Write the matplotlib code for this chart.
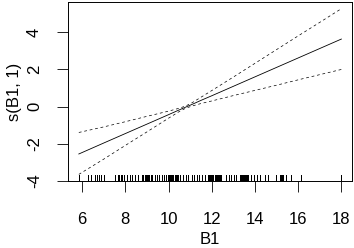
import matplotlib
matplotlib.use("Agg")
from matplotlib import pyplot as plt
import matplotlib.transforms as mtransforms

plt.rcParams['font.family'] = ['Liberation Sans', 'DejaVu Sans']
plt.rcParams['font.size'] = 12
plt.rcParams['axes.unicode_minus'] = False

# smooth term s(B1, 1) with its confidence band
b1 = [5.85, 7, 8, 9, 10, 10.5, 10.8, 11.1, 11.5, 12, 13, 14, 15, 16, 17, 18]
fit = [-2.56, -1.97, -1.46, -0.95, -0.44, -0.18, -0.03, 0.12, 0.33, 0.58,
       1.09, 1.60, 2.11, 2.62, 3.13, 3.64]
upper = [-1.40, -1.10, -0.82, -0.53, -0.25, -0.09, 0.03, 0.21, 0.50, 0.86,
         1.59, 2.33, 3.07, 3.81, 4.54, 5.28]
lower = [-3.66, -2.84, -2.10, -1.37, -0.63, -0.27, -0.09, 0.03, 0.16, 0.30,
         0.59, 0.87, 1.15, 1.44, 1.72, 2.00]

# observed B1 values (rug)
rug = [5.85, 6.28, 6.43, 6.58, 6.67, 6.77, 6.89, 7.00, 7.53, 7.66, 7.73, 7.78,
       7.84, 7.94, 8.07, 8.23, 8.33, 8.46, 8.61, 8.76, 8.84, 8.92, 8.97, 9.02,
       9.07, 9.12, 9.17, 9.22, 9.38, 9.48, 9.56, 9.69, 9.79, 9.88, 9.96, 10.01,
       10.05, 10.10, 10.14, 10.19, 10.23, 10.28, 10.32, 10.37, 10.41, 10.45,
       10.54, 10.68, 10.79, 10.91, 11.07, 11.19, 11.30, 11.41, 11.53, 11.68,
       11.82, 11.87, 11.91, 11.96, 12.00, 12.05, 12.14, 12.19, 12.23, 12.28,
       12.32, 12.37, 12.41, 12.45, 12.68, 12.79, 12.91, 13.02, 13.11, 13.30,
       13.35, 13.39, 13.44, 13.49, 13.53, 13.58, 13.63, 13.68, 13.83, 13.95,
       14.08, 14.22, 14.45, 14.60, 14.99, 15.14, 15.19, 15.24, 15.29, 15.45,
       15.68, 16.14, 17.98]

xticks = [6, 8, 10, 12, 14, 16, 18]
yticks = [-4, -2, 0, 2, 4]

fig = plt.figure(figsize=(3.54, 2.48), dpi=100)
ax = fig.add_axes([0.193, 0.270, 0.801, 0.722])

ax.plot(b1, fit, color='black', lw=0.6)
ax.plot(b1, upper, color='black', lw=0.5, linestyle=(0, (4, 4)))
ax.plot(b1, lower, color='black', lw=0.5, linestyle=(0, (4, 4)))

# rug along the bottom
trans = mtransforms.blended_transform_factory(ax.transData, ax.transAxes)
ax.vlines(rug, 0, 0.033, transform=trans, color='black', lw=0.5, antialiased=False)

ax.set_xlim(5.364, 18.486)
ax.set_ylim(-4.02, 5.64)
ax.set_xticks(xticks)
ax.set_yticks(yticks)
ax.tick_params(direction='out', length=8, width=0.6, pad=11)
ax.tick_params(axis='x', pad=14)
for lab in ax.get_yticklabels():
    lab.set_rotation(90)
    lab.set_va('center')
for s in ax.spines.values():
    s.set_linewidth(0.7)

ax.set_xlabel('B1')
ax.set_ylabel('s(B1, 1)')
ax.xaxis.set_label_coords(0.5, -0.327)
ax.yaxis.set_label_coords(-0.191, 0.5)
ax.xaxis.label.set_va('center')
ax.yaxis.label.set_va('center')

fig.savefig('out.png', dpi=100)
